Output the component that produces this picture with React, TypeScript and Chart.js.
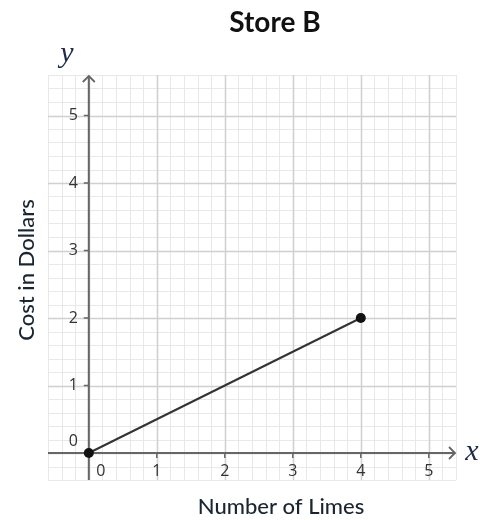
import React, { useEffect, useRef } from "react";
import { Chart, registerables } from "chart.js";

Chart.register(...registerables);

const chartTitle = "Store B";
const xAxisTitle = "Number of Limes";
const yAxisTitle = "Cost in Dollars";
const limes = [0, 4];
const cost = [0, 2];
const xTickValues = [0, 1, 2, 3, 4, 5];
const yTickValues = [0, 1, 2, 3, 4, 5];
const xMin = -0.6;
const xMax = 5.4;
const yMin = -0.4;
const yMax = 5.6;

const gridPlugin = {
  id: "gridPlugin",
  beforeDatasetsDraw(chart: any) {
    const { ctx, chartArea, scales } = chart;
    const xs = scales.x;
    const ys = scales.y;
    ctx.save();
    const minorStep = 0.2;
    const drawGrid = (major: boolean) => {
      ctx.strokeStyle = major ? "#d0d0d0" : "#e8e8e8";
      ctx.lineWidth = major ? 1.5 : 1;
      for (let i = Math.round(xMin / minorStep); i <= Math.round(xMax / minorStep); i++) {
        const v = i * minorStep;
        const isMajor = i % 5 === 0;
        if (isMajor !== major) continue;
        const px = Math.round(xs.getPixelForValue(v)) + 0.5;
        ctx.beginPath();
        ctx.moveTo(px, chartArea.top);
        ctx.lineTo(px, chartArea.bottom);
        ctx.stroke();
      }
      for (let i = Math.round(yMin / minorStep); i <= Math.round(yMax / minorStep); i++) {
        const v = i * minorStep;
        const isMajor = i % 5 === 0;
        if (isMajor !== major) continue;
        const py = Math.round(ys.getPixelForValue(v)) + 0.5;
        ctx.beginPath();
        ctx.moveTo(chartArea.left, py);
        ctx.lineTo(chartArea.right, py);
        ctx.stroke();
      }
    };
    drawGrid(false);
    drawGrid(true);

    const x0 = xs.getPixelForValue(0);
    const y0 = ys.getPixelForValue(0);
    ctx.strokeStyle = "#666";
    ctx.lineWidth = 2;
    ctx.beginPath();
    ctx.moveTo(chartArea.left, y0);
    ctx.lineTo(chartArea.right - 1, y0);
    ctx.moveTo(x0, chartArea.bottom);
    ctx.lineTo(x0, chartArea.top + 1);
    ctx.stroke();
    ctx.lineWidth = 1.8;
    ctx.beginPath();
    ctx.moveTo(chartArea.right - 7, y0 - 6);
    ctx.lineTo(chartArea.right - 1, y0);
    ctx.lineTo(chartArea.right - 7, y0 + 6);
    ctx.moveTo(x0 - 6, chartArea.top + 7);
    ctx.lineTo(x0, chartArea.top + 1);
    ctx.lineTo(x0 + 6, chartArea.top + 7);
    ctx.stroke();

    ctx.fillStyle = "#333";
    ctx.font = "16px 'Open Sans'";
    ctx.lineWidth = 1.5;
    xTickValues.forEach((v) => {
      const px = xs.getPixelForValue(v);
      if (v !== 0) {
        ctx.beginPath();
        ctx.moveTo(px, y0);
        ctx.lineTo(px, y0 + 5);
        ctx.stroke();
      }
      ctx.textAlign = "center";
      ctx.textBaseline = "middle";
      ctx.fillText(String(v), v === 0 ? px + 12 : px, y0 + 18);
    });
    yTickValues.forEach((v) => {
      const py = ys.getPixelForValue(v);
      if (v !== 0) {
        ctx.beginPath();
        ctx.moveTo(x0 - 5, py);
        ctx.lineTo(x0, py);
        ctx.stroke();
      }
      ctx.textAlign = "right";
      ctx.textBaseline = "middle";
      ctx.fillText(String(v), x0 - 11, v === 0 ? py - 12 : py);
    });

    ctx.fillStyle = "#111";
    ctx.font = "bold 28px Lato";
    ctx.textAlign = "center";
    ctx.textBaseline = "alphabetic";
    ctx.fillText(chartTitle, 275, 32);

    ctx.fillStyle = "#1a2533";
    ctx.font = "500 22px Lato";
    ctx.fillText(xAxisTitle, 281, 514);
    ctx.save();
    ctx.translate(34, 270);
    ctx.rotate(-Math.PI / 2);
    ctx.fillText(yAxisTitle, 0, 0);
    ctx.restore();

    ctx.font = "italic 30px 'Liberation Serif'";
    ctx.fillStyle = "#1d2a4a";
    ctx.textAlign = "center";
    ctx.fillText("y", 67, 62);
    ctx.fillText("x", 472, y0 + 7);
    ctx.restore();
  },
};

export default function App() {
  const canvasRef = useRef<HTMLCanvasElement | null>(null);
  useEffect(() => {
    const canvas = canvasRef.current;
    if (!canvas) return;
    const chart = new Chart(canvas, {
      type: "scatter",
      data: {
        datasets: [
          {
            data: limes.map((x, i) => ({ x, y: cost[i] })),
            showLine: true,
            borderColor: "#333",
            borderWidth: 2,
            pointRadius: 5,
            pointBackgroundColor: "#111",
            pointBorderColor: "#111",
            pointBorderWidth: 0,
          },
        ],
      },
      options: {
        responsive: false,
        animation: false,
        layout: { padding: { left: 48, right: 24, top: 75, bottom: 40 } },
        plugins: {
          legend: { display: false },
          tooltip: { enabled: false },
          title: { display: false },
        },
        scales: {
          x: { type: "linear", min: xMin, max: xMax, display: false },
          y: { type: "linear", min: yMin, max: yMax, display: false },
        },
      },
      plugins: [gridPlugin],
    });
    return () => chart.destroy();
  }, []);
  return (
    <div style={{ position: "absolute", left: 0, top: 0, width: 480, height: 520, background: "#fff" }}>
      <canvas ref={canvasRef} width={480} height={520} />
    </div>
  );
}
